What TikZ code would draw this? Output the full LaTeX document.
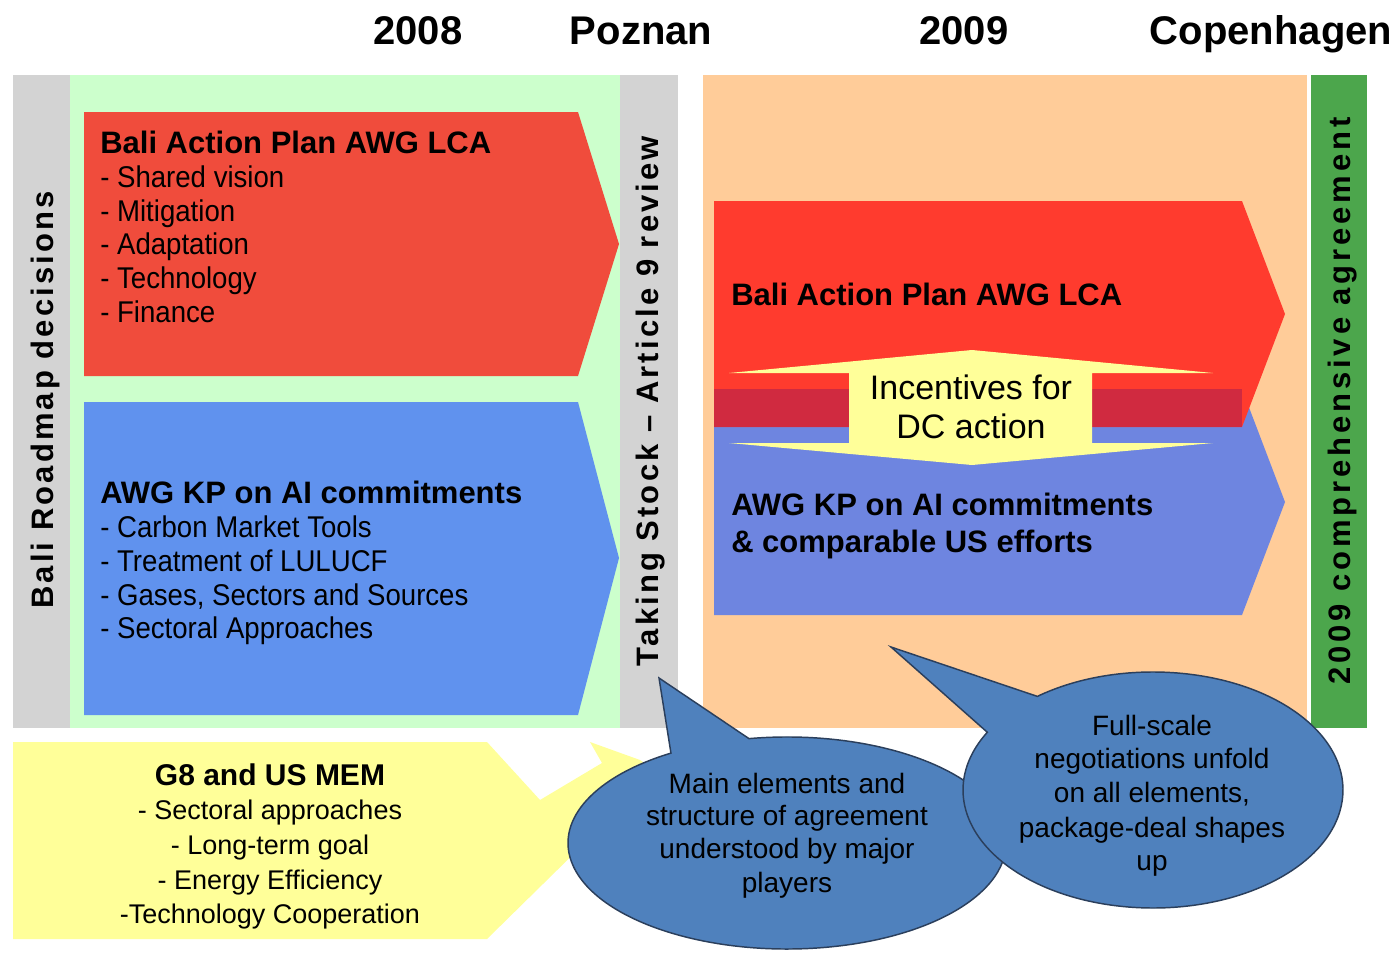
\documentclass[tikz,border=0pt]{standalone}
\usepackage{fontspec}
\usetikzlibrary{calc}
\setmainfont{Liberation Sans}
\newfontfamily\condfont[FakeStretch=0.92]{Liberation Sans}
\newfontfamily\spacedfont[LetterSpace=10]{Liberation Sans}
\newfontfamily\widespacedfont[LetterSpace=12.5]{Liberation Sans}
\definecolor{graybar}{HTML}{D3D3D3}
\definecolor{lightgreen}{HTML}{CCFFCC}
\definecolor{peach}{HTML}{FFCC99}
\definecolor{greenbar}{HTML}{4CA64C}
\definecolor{redL}{HTML}{F04C3C}
\definecolor{blueL}{HTML}{6092EE}
\definecolor{redR}{HTML}{FF3B2E}
\definecolor{blueR}{HTML}{6E85E0}
\definecolor{crimson}{HTML}{D02A40}
\definecolor{paleyellow}{HTML}{FFFF99}
\definecolor{bubblefill}{HTML}{4F81BD}
\definecolor{bubbleline}{HTML}{2B3F5C}
\begin{document}
\begin{tikzpicture}[x=0.75pt,y=-0.75pt,
  hdr/.style={font=\bfseries\fontsize{30}{36}\selectfont, anchor=base, inner sep=0},
  ttl/.style={font=\bfseries\fontsize{23.25}{28}\selectfont, anchor=base west, inner sep=0},
  itm/.style={font=\condfont\fontsize{22.5}{27}\selectfont, anchor=base west, inner sep=0},
  vlabel/.style={font=\spacedfont\bfseries\fontsize{23.25}{28}\selectfont, rotate=90, anchor=base, inner sep=0},
  ylw/.style={font=\fontsize{20.25}{24}\selectfont, anchor=base, inner sep=0},
  btxt/.style={font=\fontsize{21}{25}\selectfont, anchor=base, inner sep=0},
  inc/.style={font=\fontsize{25.5}{30}\selectfont, anchor=base, inner sep=0},
  bubble/.style={fill=bubblefill, draw=bubbleline, line width=1.1pt}
]
\useasboundingbox (0,0) rectangle (1397,953);
\fill[white] (0,0) rectangle (1397,953);

% headers
\node[hdr] (y2008) at (418,44) {2008};
\node[hdr] (poz) at (641,44) {Poznan};
\node[hdr] (y2009) at (964,44) {2009};
\node[hdr] (cop) at (1271,44) {Copenhagen};

% panels
\fill[graybar] (13,75) rectangle (70,728);
\fill[lightgreen] (70,75) rectangle (620,728);
\fill[graybar] (620,75) rectangle (678,728);
\fill[peach] (703,75) rectangle (1307,728);
\fill[greenbar] (1311,75) rectangle (1367,728);

\node[vlabel] (brd) at (53,400) {Bali Roadmap decisions};
\node[vlabel] (tsr) at (658,401) {Taking Stock – Article 9 review};
\node[vlabel, font=\widespacedfont\bfseries\fontsize{23.25}{28}\selectfont] (cagr) at (1350,401) {2009 comprehensive agreement};

% left arrows
\fill[redL] (84,112) -- (578,112) -- (619,244) -- (578,376) -- (84,376) -- cycle;
\fill[blueL] (84,402) -- (578,402) -- (619,558) -- (578,715) -- (84,715) -- cycle;

\node[ttl] (lt1) at (100,153) {Bali Action Plan AWG LCA};
\node[itm] (li1) at (100,187) {- Shared vision};
\node[itm] (li2) at (100,221) {- Mitigation};
\node[itm] (li3) at (100,254) {- Adaptation};
\node[itm] (li4) at (100,288) {- Technology};
\node[itm] (li5) at (100,322) {- Finance};

\node[ttl] (lt2) at (100,503) {AWG KP on AI commitments};
\node[itm] (lb1) at (100,537) {- Carbon Market Tools};
\node[itm] (lb2) at (100,571) {- Treatment of LULUCF};
\node[itm] (lb3) at (100,605) {- Gases, Sectors and Sources};
\node[itm] (lb4) at (100,638) {- Sectoral Approaches};

% right arrows
\fill[blueR] (714,389) -- (1242,389) -- (1285,502) -- (1242,615) -- (714,615) -- cycle;
\fill[redR] (714,201) -- (1242,201) -- (1285,314) -- (1242,427) -- (714,427) -- cycle;
\fill[crimson] (714,389) rectangle (1242,427);

\fill[paleyellow] (729,373) -- (972,350) -- (1213,373) -- (1092,373) -- (1092,443)
  -- (1213,443) -- (972,465) -- (729,443) -- (849,443) -- (849,373) -- cycle;

\node[ttl] (rt1) at (731,305) {Bali Action Plan AWG LCA};
\node[ttl] (rt2) at (731,515) {AWG KP on AI commitments};
\node[ttl] (rt3) at (731,552) {\& comparable US efforts};
\node[inc] (inc1) at (971,399) {Incentives for};
\node[inc] (inc2) at (971,438) {DC action};

% bottom yellow arrow
\fill[paleyellow] (13,742) -- (487,742) -- (540,800) -- (602,763) -- (590,742) -- (640,760)
  -- (700,800) -- (600,828) -- (487,939) -- (13,939) -- cycle;
\node[font=\bfseries\fontsize{22.5}{27}\selectfont, anchor=base, inner sep=0] (g8) at (270,785) {G8 and US MEM};
\node[ylw] (g1) at (270,819) {- Sectoral approaches};
\node[ylw] (g2) at (270,854) {- Long-term goal};
\node[ylw] (g3) at (270,889) {- Energy Efficiency};
\node[ylw] (g4) at (270,923) {-Technology Cooperation};

% speech bubble 1
\path[bubble] (659,678) -- ($(787,843)+(-100:219 and 106)$)
  arc[start angle=-100, end angle=238, x radius=219, y radius=106] -- cycle;
\node[btxt] (b1a) at (787,793) {Main elements and};
\node[btxt] (b1b) at (787,825) {structure of agreement};
\node[btxt] (b1c) at (787,858) {understood by major};
\node[btxt] (b1d) at (787,892) {players};

% speech bubble 2
\path[bubble] (891,647) -- ($(1153,790)+(-127.5:190 and 118)$)
  arc[start angle=-127.5, end angle=209.3, x radius=190, y radius=118] -- cycle;
\node[btxt] (b2a) at (1152,735) {Full-scale};
\node[btxt] (b2b) at (1152,768) {negotiations unfold};
\node[btxt] (b2c) at (1152,802) {on all elements,};
\node[btxt] (b2d) at (1152,837) {package-deal shapes};
\node[btxt] (b2e) at (1152,870) {up};
\end{tikzpicture}
\end{document}
